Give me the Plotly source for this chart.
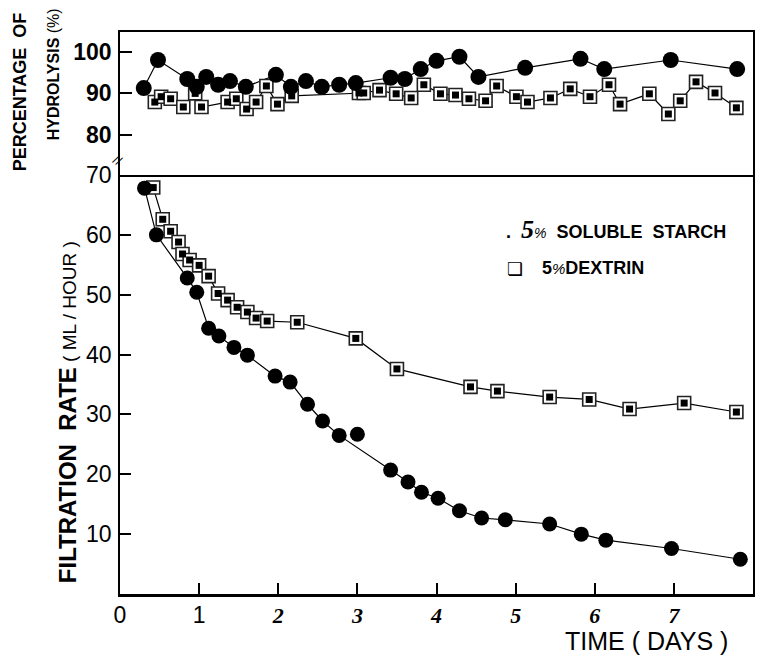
import plotly.graph_objects as go

# ---------------- data ----------------
# Lower panel: filtration rate (ml/hour) vs time (days)
starch_days = [0.31, 0.46, 0.85, 0.97, 1.12, 1.25, 1.44, 1.61, 1.96, 2.15, 2.37, 2.56, 2.77, 3.00,
               3.42, 3.64, 3.81, 4.02, 4.29, 4.57, 4.87, 5.43, 5.83, 6.14, 6.97, 7.84]
starch_rate = [67.8, 60.0, 52.8, 50.4, 44.4, 43.1, 41.2, 39.9, 36.4, 35.4, 31.7, 28.9, 26.5, 26.7,
               20.7, 18.7, 17.0, 16.0, 13.9, 12.7, 12.4, 11.7, 10.0, 9.0, 7.6, 5.8]
starch_outlier_days = [3.00]   # plotted point that the drawn curve passes by

dextrin_days = [0.42, 0.54, 0.64, 0.74, 0.79, 0.88, 1.00, 1.12, 1.24, 1.36, 1.48, 1.61, 1.72, 1.86,
                2.24, 2.98, 3.50, 4.43, 4.77, 5.43, 5.93, 6.44, 7.13, 7.79]
dextrin_rate = [67.9, 62.6, 60.6, 58.8, 56.8, 55.8, 54.9, 53.1, 50.2, 49.1, 47.9, 47.1, 46.1, 45.6,
                45.4, 42.7, 37.6, 34.6, 33.9, 32.9, 32.5, 30.9, 31.9, 30.4]

# Upper panel: percentage of hydrolysis
starch_h_days = [0.30, 0.48, 0.85, 0.97, 1.09, 1.24, 1.39, 1.59, 1.97, 2.16, 2.35, 2.55, 2.77, 2.98,
                 3.42, 3.60, 3.80, 4.00, 4.29, 4.53, 5.12, 5.82, 6.12, 6.96, 7.80]
starch_h_pct = [91.3, 98.1, 93.5, 91.6, 94.0, 92.1, 93.0, 91.6, 94.5, 91.6, 93.0, 91.6, 92.1, 92.5,
                93.8, 93.5, 95.9, 97.9, 98.9, 94.0, 96.2, 98.4, 95.9, 98.1, 95.9]

dextrin_h_days = [0.44, 0.52, 0.64, 0.80, 0.95, 1.03, 1.36, 1.47, 1.60, 1.72, 1.85, 1.99, 2.17, 3.02,
                  3.08, 3.28, 3.49, 3.68, 3.84, 4.05, 4.24, 4.41, 4.62, 4.76, 5.01, 5.15, 5.44, 5.69,
                  5.94, 6.18, 6.32, 6.69, 6.93, 7.08, 7.28, 7.52, 7.79]
dextrin_h_pct = [87.9, 89.2, 88.7, 86.7, 90.0, 86.7, 87.9, 88.7, 86.2, 87.9, 91.8, 87.4, 89.4, 90.1,
                 90.1, 90.8, 89.9, 88.9, 92.1, 89.9, 89.6, 88.7, 88.2, 91.8, 89.2, 87.9, 88.9, 91.1,
                 89.2, 92.1, 87.4, 89.9, 85.0, 88.2, 92.8, 90.1, 86.5]

x_tick_vals = [0, 1, 2, 3, 4, 5, 6, 7]
rate_ticks = [10, 20, 30, 40, 50, 60, 70]
hydro_ticks = [80, 90, 100]

# ---------------- figure ----------------
W, H = 761, 665
ML, MR, MT, MB = 120, 6, 32, 71
PW, PH = W - ML - MR, H - MT - MB
split = (594 - 175) / PH


def px(xpix):
    return (xpix - ML) / PW


def py(ypix):
    return (H - MB - ypix) / PH


fig = go.Figure()

curve_days = [d for d in starch_days if d not in starch_outlier_days]
curve_rate = [r for d, r in zip(starch_days, starch_rate) if d not in starch_outlier_days]

line_style = dict(color="black", width=1.2)

# lower panel lines
fig.add_trace(go.Scatter(x=curve_days, y=curve_rate, mode="lines", line=line_style,
                         xaxis="x", yaxis="y", showlegend=False, hoverinfo="skip"))
fig.add_trace(go.Scatter(x=dextrin_days, y=dextrin_rate, mode="lines", line=line_style,
                         xaxis="x", yaxis="y", showlegend=False, hoverinfo="skip"))
# upper panel lines
fig.add_trace(go.Scatter(x=starch_h_days, y=starch_h_pct, mode="lines", line=line_style,
                         xaxis="x2", yaxis="y2", showlegend=False, hoverinfo="skip"))
fig.add_trace(go.Scatter(x=dextrin_h_days, y=dextrin_h_pct, mode="lines", line=line_style,
                         xaxis="x2", yaxis="y2", showlegend=False, hoverinfo="skip"))


def add_squares(xs, ys, xa, ya, name):
    fig.add_trace(go.Scatter(x=xs, y=ys, mode="markers", name=name, xaxis=xa, yaxis=ya,
                             marker=dict(symbol="square", size=13, color="white",
                                         line=dict(color="#222", width=1.6)),
                             showlegend=False))
    fig.add_trace(go.Scatter(x=xs, y=ys, mode="markers", name=name, xaxis=xa, yaxis=ya,
                             marker=dict(symbol="square", size=7, color="black",
                                         line=dict(width=0)),
                             showlegend=False, hoverinfo="skip"))


def add_circles(xs, ys, xa, ya, name, size):
    fig.add_trace(go.Scatter(x=xs, y=ys, mode="markers", name=name, xaxis=xa, yaxis=ya,
                             marker=dict(symbol="circle", size=size, color="black",
                                         line=dict(width=0)),
                             showlegend=False))


add_squares(dextrin_days, dextrin_rate, "x", "y", "5% dextrin")
add_circles(starch_days, starch_rate, "x", "y", "5% soluble starch", 15)
add_squares(dextrin_h_days, dextrin_h_pct, "x2", "y2", "5% dextrin")
add_circles(starch_h_days, starch_h_pct, "x2", "y2", "5% soluble starch", 16)

sans = "Liberation Sans, Arial, sans-serif"
serif = "Liberation Serif, Times New Roman, serif"

x_tick_text = []
for v in x_tick_vals:
    if v <= 1:
        x_tick_text.append(f"<span style='font-family:Liberation Sans;font-size:23px'>{v}</span>")
    else:
        x_tick_text.append(f"<b><i>{v}</i></b>")

fig.update_layout(
    width=W, height=H,
    margin=dict(l=ML, r=MR, t=MT, b=MB),
    paper_bgcolor="white", plot_bgcolor="white",
    showlegend=False,
    xaxis=dict(domain=[0, 1], range=[0, 8], anchor="y",
               tickmode="array", tickvals=x_tick_vals, ticktext=x_tick_text,
               ticks="inside", ticklen=11, tickwidth=2, tickcolor="black",
               showline=True, linecolor="black", linewidth=2.5, mirror=False,
               showgrid=False, zeroline=False,
               tickfont=dict(family=serif, size=22, color="black")),
    yaxis=dict(domain=[0, split], range=[0, 70], anchor="x",
               tickmode="array", tickvals=rate_ticks,
               ticks="inside", ticklen=11, tickwidth=1.5, tickcolor="black",
               showline=True, linecolor="black", linewidth=1.5, mirror=True,
               showgrid=False, zeroline=False, ticklabelstandoff=2,
               tickfont=dict(family=sans, size=23, color="black")),
    xaxis2=dict(domain=[0, 1], range=[0, 8], anchor="y2", matches="x",
                showticklabels=False, ticks="",
                showline=True, linecolor="black", linewidth=1.5, mirror=True,
                showgrid=False, zeroline=False),
    yaxis2=dict(domain=[split, 1], range=[70.2, 104.9], anchor="x2",
                tickmode="array", tickvals=hydro_ticks,
                ticks="inside", ticklen=12, tickwidth=1.5, tickcolor="black",
                showline=True, linecolor="black", linewidth=1.5, mirror=True,
                showgrid=False, zeroline=False, ticklabelstandoff=2,
                tickfont=dict(family=sans, size=23, color="black", weight="bold")),
)

ann = []


def note(text, xp, yp, size, angle=0, family=sans, weight="normal", xanchor="center"):
    ann.append(dict(text=text, x=px(xp), y=py(yp), xref="paper", yref="paper",
                    xanchor=xanchor, yanchor="middle", textangle=angle, showarrow=False,
                    font=dict(family=family, size=size, color="black", weight=weight)))


# y titles
note("PERCENTAGE  OF", 20, 92, 18, angle=-90, weight="bold")
note("HYDROLYSIS <span style='font-weight:normal'>(%)</span>", 53, 74, 16, angle=-90, weight="bold")
note("<b>FILTRATION  RATE</b><span style='font-size:19px'> ( ML / HOUR )</span>",
     67, 412, 24, angle=-90)
# x title
note("TIME ( DAYS )", 648, 641, 25)
# legend
note("<b>.</b>  <b><i><span style='font-family:Liberation Serif;font-size:26px'>5</span></i></b>"
     "<i><span style='font-size:14px'>%</span></i>  <b>SOLUBLE  STARCH</b>",
     505, 229, 18, xanchor="left")
note("<b>\u274f</b>", 516, 268, 18, family="DejaVu Sans")
note("<b>5</b><i><span style='font-size:15px'>%</span></i><b>DEXTRIN</b>",
     541, 268, 18, xanchor="left")
# axis break mark
note("//", 118, 160, 13, angle=30)
fig.update_layout(annotations=ann)

fig.write_html("out.html")
